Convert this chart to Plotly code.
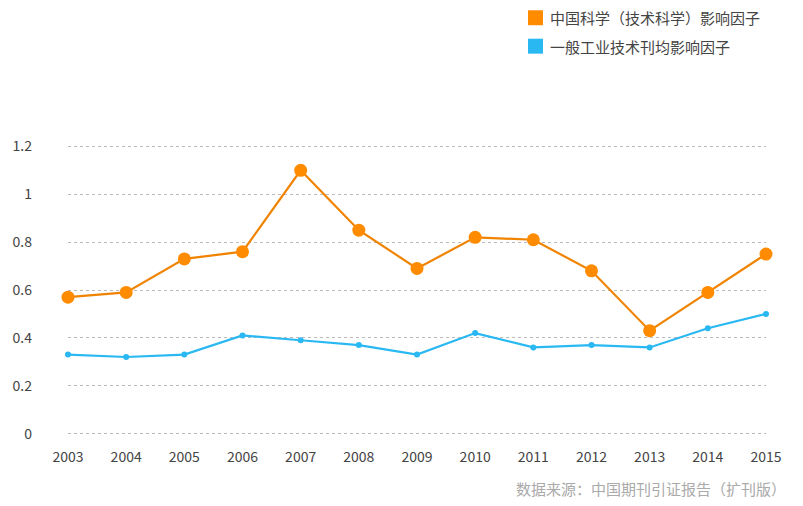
import plotly.graph_objects as go

years = [2003, 2004, 2005, 2006, 2007, 2008, 2009, 2010, 2011, 2012, 2013, 2014, 2015]
china_sci = [0.57, 0.59, 0.73, 0.76, 1.10, 0.85, 0.69, 0.82, 0.81, 0.68, 0.43, 0.59, 0.75]
general_ind = [0.33, 0.32, 0.33, 0.41, 0.39, 0.37, 0.33, 0.42, 0.36, 0.37, 0.36, 0.44, 0.50]
series_names = ["中国科学（技术科学）影响因子", "一般工业技术刊均影响因子"]
y_ticks = [0, 0.2, 0.4, 0.6, 0.8, 1.0, 1.2]
y_tick_labels = ["0", "0.2", "0.4", "0.6", "0.8", "1", "1.2"]
source_text = "数据来源：中国期刊引证报告（扩刊版）"

ORANGE = "#FF8C00"
ORANGE_LINE = "#F08300"
BLUE = "#29B8F2"
FONT = "Noto Sans CJK SC"
TEXT = "#444444"

PAGE_OFF = 8  # default body margin of the html page
W, H = 803 - PAGE_OFF, 506 - PAGE_OFF
L, T = 68 - PAGE_OFF, 143.6 - PAGE_OFF
R = W - (766 - PAGE_OFF)
B = H - (436.4 - PAGE_OFF)
plot_w = W - L - R
plot_h = H - T - B


def px_x(px):
    return (px - PAGE_OFF - L) / plot_w


def px_y(py):
    return (H - B - (py - PAGE_OFF)) / plot_h


fig = go.Figure()
fig.add_trace(go.Scatter(
    x=years, y=china_sci, mode="lines+markers", name=series_names[0], showlegend=False,
    line=dict(color=ORANGE_LINE, width=2.2),
    marker=dict(color=ORANGE, size=13), cliponaxis=False,
))
fig.add_trace(go.Scatter(
    x=years, y=general_ind, mode="lines+markers", name=series_names[1], showlegend=False,
    line=dict(color=BLUE, width=2.2),
    marker=dict(color=BLUE, size=6), cliponaxis=False,
))

# custom legend (square swatches + labels)
shapes = []
annotations = []
for i, (name, col) in enumerate(zip(series_names, [ORANGE, BLUE])):
    cy = 17 + i * 28.5
    shapes.append(dict(
        type="rect", xref="paper", yref="paper",
        x0=px_x(528), x1=px_x(543), y0=px_y(cy - 7.5), y1=px_y(cy + 7.5),
        fillcolor=col, line=dict(width=0),
    ))
    annotations.append(dict(
        text=name, xref="paper", yref="paper", x=px_x(548), y=px_y(cy),
        xanchor="left", yanchor="middle", showarrow=False,
        font=dict(family=FONT, size=15, color=TEXT),
    ))

annotations.append(dict(
    text=source_text, xref="paper", yref="paper", x=px_x(514), y=px_y(489),
    xanchor="left", yanchor="middle", showarrow=False,
    font=dict(family=FONT, size=15, color="#AAAAAA"),
))

fig.update_layout(
    width=W, height=H,
    margin=dict(l=L, r=R, t=T, b=B, autoexpand=False),
    paper_bgcolor="white", plot_bgcolor="white",
    font=dict(family=FONT, size=14, color=TEXT),
    showlegend=False,
    xaxis=dict(
        range=[2003, 2015], tickmode="array", tickvals=years,
        ticktext=[str(y) for y in years],
        showgrid=False, zeroline=False, showline=False, ticks="",
        ticklabelstandoff=11, automargin=False,
        tickfont=dict(size=14, color=TEXT),
    ),
    yaxis=dict(
        range=[-0.01, 1.21], tickmode="array", tickvals=y_ticks, ticktext=y_tick_labels,
        showgrid=True, gridcolor="#BBBBBB", griddash="dot", gridwidth=1,
        zeroline=False, showline=False, ticks="", ticklabelstandoff=35,
        automargin=False,
        tickfont=dict(size=14, color=TEXT),
    ),
    shapes=shapes,
    annotations=annotations,
)

fig.write_html("out.html")
